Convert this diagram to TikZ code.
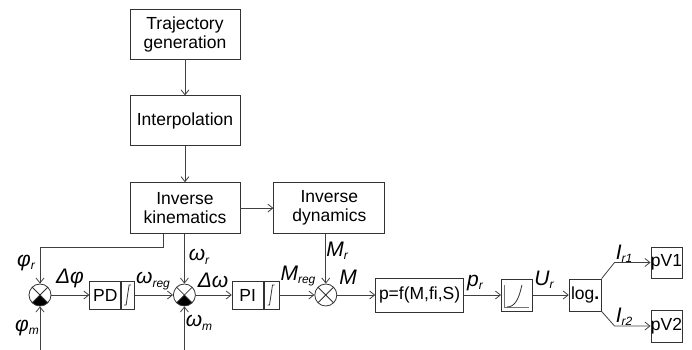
\documentclass[tikz,border=0pt]{standalone}
\usepackage{fontspec}
\setmainfont{Liberation Sans}
\usetikzlibrary{arrows.meta,positioning}
\newcommand{\sig}[2]{\textit{#1}\raisebox{-0.3ex}{\fontsize{12}{12}\selectfont\textit{#2}}}

\begin{document}
\begin{tikzpicture}[x=1pt,y=1pt,>={Straight Barb[length=5pt,width=8pt]},
  every node/.style={font=\fontsize{17.5}{19}\selectfont},
  blk/.style={draw=black!80,line width=0.8pt,align=center,inner sep=0pt},
  lbl/.style={font=\fontsize{21}{22}\selectfont\itshape,inner sep=0pt},
  sumc/.style={draw=black!80,line width=0.8pt,circle,minimum size=22pt,inner sep=0pt,
    path picture={\draw[black!80] (path picture bounding box.north west) -- (path picture bounding box.south east)
      (path picture bounding box.north east) -- (path picture bounding box.south west);}},
  sumf/.style={sumc,
    path picture={\fill (path picture bounding box.center) -- (path picture bounding box.south west) -- (path picture bounding box.south east) -- cycle;
      \draw[black!80] (path picture bounding box.north west) -- (path picture bounding box.south east)
      (path picture bounding box.north east) -- (path picture bounding box.south west);}},
  sat/.style={path picture={\draw[black!80,shift={(path picture bounding box.center)}] (-4,-10) -- (-2,-10) -- (1,10) -- (3,10);}},
  curve/.style={path picture={\draw[black!55,shift={(path picture bounding box.center)}] (-12.5,10) -- (-12.5,-12) -- (12,-12);
      \draw[black!80,shift={(path picture bounding box.center)}] (-10,-12) .. controls (-2,-12) and (2,-4) .. (5,10);}},
  wire/.style={draw=black!75,line width=0.8pt,->}]
  \useasboundingbox (0,0) rectangle (692,350);
  % upper chain
  \node[blk,minimum width=110pt,minimum height=50pt] (traj) at (185,316) {Trajectory\\generation};
  \node[blk,minimum width=110pt,minimum height=50pt,below=36pt of traj] (interp) {Interpolation};
  \node[blk,minimum width=110pt,minimum height=51pt,below=36pt of interp] (ikin) {Inverse\\kinematics};
  \node[blk,minimum width=111pt,minimum height=51pt,right=33pt of ikin] (idyn) {Inverse\\dynamics};
  % control loop
  \node[sumf] (s1) at (40,55) {};
  \node[blk,minimum width=31pt,minimum height=28pt,right=38pt of s1] (pd) {PD};
  \node[blk,sat,minimum width=13pt,minimum height=28pt,right=0pt of pd] (pdsat) {};
  \node[sumf,right=38pt of pdsat] (s2) {};
  \node[blk,minimum width=31pt,minimum height=28pt,right=36pt of s2] (pi) {PI};
  \node[blk,sat,minimum width=15pt,minimum height=28pt,right=0pt of pi] (pisat) {};
  \node[sumc,right=35pt of pisat] (s3) {};
  \node[blk,minimum width=88pt,minimum height=34pt,right=38pt of s3] (pf) {p=f(M,fi,S)};
  \node[blk,curve,minimum width=31pt,minimum height=32pt,right=37pt of pf] (crv) {};
  \node[blk,minimum width=32pt,minimum height=32pt,right=36pt of crv] (logb) {log\textbf{.}};
  \node[blk,minimum width=31pt,minimum height=31pt] (pv1) at (666.5,87.5) {pV1};
  \node[blk,minimum width=31pt,minimum height=32pt] (pv2) at (666.5,24) {pV2};
  \coordinate (phim) at (s1 |- 0,0);
  \coordinate (wm) at (s2 |- 0,0);
  % connectors
  \draw[wire] (traj) -- (interp);
  \draw[wire] (interp) -- (ikin);
  \draw[wire] (ikin) -- (idyn);
  \draw[wire] ([xshift=-22pt]ikin.south) -- ++(0,-13) -| (s1);
  \draw[wire] (s2 |- ikin.south) -- (s2);
  \draw[wire] (phim) -- (s1);
  \draw[wire] (wm) -- (s2);
  \draw[wire] (s1) -- (pd);
  \draw[wire] (pdsat) -- (s2);
  \draw[wire] (s2) -- (pi);
  \draw[wire] (pisat) -- (s3);
  \draw[wire] (s3 |- idyn.south) -- (s3);
  \draw[wire] (s3) -- (pf);
  \draw[wire] (pf) -- (crv);
  \draw[wire] (crv) -- (logb);
  \draw[wire] (logb.north east) -- ([xshift=-36pt]pv1.west) -- (pv1);
  \draw[wire] (logb.south east) -- ([xshift=-36pt]pv2.west) -- (pv2);
  % signal labels
  \node[lbl] (lphir) at (26,87) {\sig{φ}{r}};
  \node[lbl] (lphim) at (27,22) {\sig{φ}{m}};
  \node[lbl] (ldphi) at (70,72) {Δφ};
  \node[lbl] (lwreg) at (153,69) {\sig{ω}{reg}};
  \node[lbl] (lwr) at (199,93) {\sig{ω}{r}};
  \node[lbl] (ldw) at (213,70) {Δω};
  \node[lbl] (lwm) at (199,27) {\sig{ω}{m}};
  \node[lbl] (lmreg) at (298,74) {\sig{M}{reg}};
  \node[lbl] (lmr) at (337,99) {\sig{M}{r}};
  \node[lbl] (lm) at (348,73) {M};
  \node[lbl] (lpr) at (475,67) {\sig{p}{r}};
  \node[lbl] (lur) at (544,70) {\sig{U}{r}};
  \node[lbl] (lir1) at (624,96) {\sig{I}{r1}};
  \node[lbl] (lir2) at (624,33) {\sig{I}{r2}};
\end{tikzpicture}
\end{document}
